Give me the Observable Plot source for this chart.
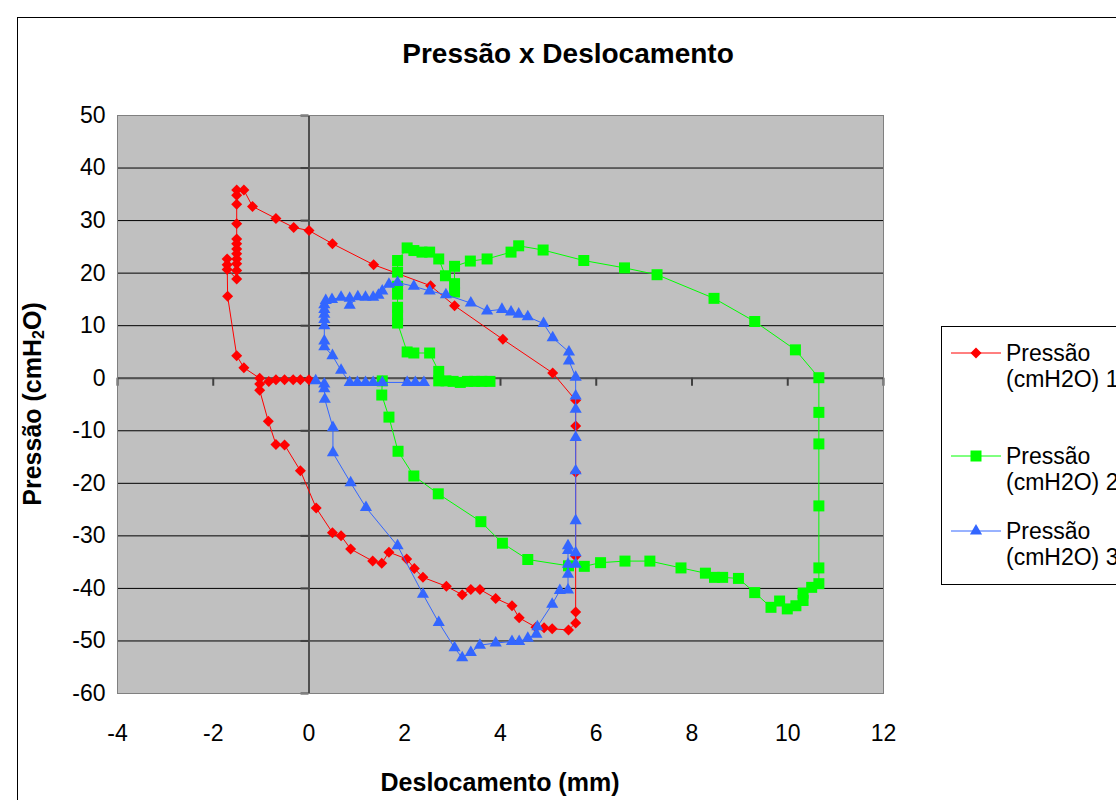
<!DOCTYPE html>
<html>
<head>
<meta charset="utf-8">
<script src="https://cdn.jsdelivr.net/npm/d3@7"></script>
<script src="https://cdn.jsdelivr.net/npm/@observablehq/plot@0.6"></script>
<style>
  body { margin: 0; background: #fff; font-family: "Liberation Sans", Arial, sans-serif; }
  #wrap { position: relative; width: 1116px; height: 800px; overflow: hidden; background: #fff; }
  #chart { position: absolute; left: 0; top: 0; }
  #border { position: absolute; left: 17px; top: 17px; width: 3000px; height: 3000px; border: 1px solid #000; box-sizing: border-box; pointer-events: none; }
  #title { position: absolute; left: 0; width: 1136px; top: 38px; text-align: center; font-weight: bold; font-size: 28px; line-height: 32px; color: #000; }
  #xtitle { position: absolute; left: 0; width: 1000px; top: 767px; text-align: center; font-weight: bold; font-size: 25px; line-height: 30px; color: #000; }
  #ytitle { position: absolute; left: 32px; top: 404px; transform: translate(-50%, -50%) rotate(-90deg); white-space: nowrap; font-weight: bold; font-size: 25px; line-height: 30px; color: #000; }
  #ytitle sub { font-size: 16px; vertical-align: -3px; line-height: 0; }
  #legend { position: absolute; left: 941px; top: 326px; width: 400px; height: 259px; border: 1px solid #000; box-sizing: border-box; background: #fff; }
  .entry { position: absolute; left: 0; font-size: 23px; line-height: 26px; color: #000; }
  .entry svg { position: absolute; left: 9px; top: 0; }
  .entry .txt { position: absolute; left: 64px; top: 2px; white-space: nowrap; }
</style>
</head>
<body>
<div id="wrap">
  <div id="chart"></div>
  <div id="border"></div>
  <div id="title"></div>
  <div id="xtitle"></div>
  <div id="ytitle"></div>
  <div id="legend"></div>
</div>
<script>
// ---- Data ----
const seriesNames = ["Pressão (cmH2O) 1", "Pressão (cmH2O) 2", "Pressão (cmH2O) 3"];
const seriesColors = ["#FF0000", "#00FF00", "#3366FF"];
const xTicks = [-4, -2, 0, 2, 4, 6, 8, 10, 12];
const yTicks = [-60, -50, -40, -30, -20, -10, 0, 10, 20, 30, 40, 50];
const chartTitle = "Pressão x Deslocamento";
const xLabel = "Deslocamento (mm)";

const redX = [0.00,-0.18,-0.33,-0.51,-0.69,-0.84,-1.03,-1.03,-0.85,-0.69,-0.51,-0.18,0.15,0.49,0.67,0.87,1.33,1.52,1.67,2.04,2.20,2.38,2.87,3.20,3.38,3.57,3.90,4.24,4.39,4.74,4.91,5.08,5.42,5.57,5.57,5.57,5.57,5.57,5.57,5.09,4.05,3.04,2.54,1.35,0.49,0.00,-0.32,-0.69,-1.18,-1.36,-1.51,-1.51,-1.51,-1.51,-1.51,-1.51,-1.51,-1.51,-1.51,-1.51,-1.51,-1.51,-1.71,-1.71,-1.71,-1.70,-1.51,-1.36,-1.03];
const redY = [-0.3,-0.3,-0.3,-0.3,-0.3,-0.6,-1.1,-2.3,-8.2,-12.6,-12.7,-17.6,-24.7,-29.4,-30.0,-32.5,-34.8,-35.2,-33.1,-34.4,-36.2,-37.9,-39.6,-41.2,-40.2,-40.2,-41.9,-43.3,-45.6,-47.4,-47.5,-47.7,-47.9,-46.6,-44.5,-33.9,-17.9,-9.1,-4.2,1.0,7.4,13.8,17.6,21.6,25.6,28.1,28.7,30.4,32.7,35.8,35.8,34.8,33.1,29.4,26.5,25.6,24.6,23.7,22.7,21.8,20.5,18.9,20.7,21.6,22.7,15.6,4.3,2.0,0.0];

const greenX = [1.53,1.52,1.67,1.86,2.19,2.70,3.59,4.04,4.57,5.42,5.75,6.09,6.60,7.12,7.77,8.28,8.47,8.64,8.97,9.31,9.65,9.83,9.99,10.17,10.32,10.32,10.50,10.65,10.65,10.65,10.65,10.65,10.65,10.16,9.31,8.46,7.27,6.59,5.74,4.89,4.38,4.22,3.72,3.37,3.04,3.04,3.04,2.85,2.71,2.52,2.36,2.19,2.05,1.85,1.85,1.85,1.85,1.85,1.85,1.85,2.05,2.19,2.52,2.71,2.71,2.86,3.01,3.16,3.31,3.46,3.61,3.78];
const greenY = [-0.5,-3.2,-7.4,-13.9,-18.6,-22.0,-27.3,-31.4,-34.5,-35.7,-35.8,-35.1,-34.8,-34.8,-36.1,-37.1,-37.9,-37.9,-38.1,-40.8,-43.6,-42.4,-43.9,-43.3,-42.3,-40.9,-39.8,-39.1,-36.1,-24.3,-12.5,-6.5,0.1,5.4,10.8,15.2,19.7,21.0,22.4,24.4,25.2,24.0,22.7,22.3,21.3,16.4,18.0,19.5,22.7,24.0,24.0,24.3,24.8,22.4,20.2,17.5,16.0,13.5,12.0,10.5,5.0,4.8,4.8,1.3,-0.5,-0.5,-0.6,-0.8,-0.6,-0.6,-0.6,-0.6];

const blueX = [0.14,0.32,0.32,0.33,0.50,0.50,0.87,1.19,1.85,2.38,2.71,3.04,3.20,3.38,3.57,3.90,4.24,4.39,4.57,4.75,4.77,5.08,5.24,5.41,5.41,5.41,5.41,5.41,5.57,5.57,5.57,5.57,5.57,5.57,5.57,5.57,5.43,5.43,5.09,4.90,4.57,4.38,4.22,4.03,3.72,3.38,2.86,2.52,2.19,1.85,1.67,1.53,1.45,1.34,1.18,1.02,0.85,0.85,0.67,0.48,0.35,0.32,0.32,0.32,0.32,0.32,0.32,0.32,0.49,0.67,0.85,1.01,1.18,1.34,1.53,2.05,2.22,2.40];
const blueY = [-0.5,-1.1,-2.0,-4.0,-9.4,-14.2,-19.9,-24.6,-31.9,-41.1,-46.5,-51.3,-53.2,-52.2,-50.8,-50.4,-50.1,-50.1,-49.5,-48.7,-47.3,-43.0,-40.4,-40.3,-37.3,-35.4,-32.8,-31.9,-33.2,-35.4,-27.1,-17.6,-11.3,-5.9,-3.4,0.2,3.3,5.0,7.7,10.4,11.7,12.2,12.6,13.1,12.8,14.3,15.9,16.6,17.5,18.2,17.9,16.6,15.8,15.4,15.4,15.5,13.9,15.2,15.4,15.0,14.8,14.0,13.1,12.2,11.2,10.0,7.1,6.0,4.3,1.5,-0.8,-0.8,-0.8,-0.8,-0.8,-0.8,-0.8,-0.8];

// ---- Build tables ----
const toRows = (xs, ys) => xs.map((x, i) => ({x, y: ys[i]}));
const red = toRows(redX, redY);
const green = toRows(greenX, greenY);
const blue = toRows(blueX, blueY);

const W = 1116, H = 800;
const mL = 117, mR = 233, mT = 115, mB = 107;
const xDom = [xTicks[0], xTicks[xTicks.length - 1]];
const yDom = [yTicks[0], yTicks[yTicks.length - 1]];
const pxPerX = (W - mL - mR) / (xDom[1] - xDom[0]);
const pxPerY = (H - mT - mB) / (yDom[1] - yDom[0]);
const tickPx = 8;
const tickXLen = tickPx / pxPerY; // in y units
const tickYLen = tickPx / pxPerX; // in x units

const sqR = 11 / Math.sqrt(Math.PI);
const diaR = Math.sqrt((11 / 1.2525) ** 2 / Math.PI);
const triR = Math.sqrt(64 / Math.PI);

const chart = Plot.plot({
  width: W, height: H,
  marginLeft: mL, marginRight: mR, marginTop: mT, marginBottom: mB,
  x: {domain: xDom, label: null},
  y: {domain: yDom, label: null},
  style: {fontFamily: "'Liberation Sans', Arial, sans-serif", background: "transparent", color: "#000"},
  marks: [
    Plot.frame({fill: "#C0C0C0", stroke: null}),
    Plot.ruleY(yTicks, {stroke: "#000", strokeWidth: 1}),
    Plot.ruleX([0], {stroke: "#505050", strokeWidth: 2}),
    Plot.ruleY([0], {stroke: "#505050", strokeWidth: 2}),
    Plot.ruleX(xTicks, {x: d => d, y1: 0, y2: -tickXLen, stroke: "#404040", strokeWidth: 2}),
    Plot.ruleY(yTicks, {y: d => d, x1: 0, x2: -tickYLen, stroke: "#404040", strokeWidth: 2}),
    Plot.frame({stroke: "#808080", strokeWidth: 1}),
    Plot.axisX(xTicks, {tickSize: 0, tickPadding: 31, fontSize: 23, tickFormat: d => String(d), label: null}),
    Plot.axisY(yTicks, {tickSize: 0, tickPadding: 12, fontSize: 23, tickFormat: d => String(d), label: null}),
    Plot.line(red, {x: "x", y: "y", stroke: seriesColors[0], strokeWidth: 1}),
    Plot.dot(red, {x: "x", y: "y", symbol: "diamond2", fill: seriesColors[0], stroke: null, r: diaR}),
    Plot.line(green, {x: "x", y: "y", stroke: seriesColors[1], strokeWidth: 1}),
    Plot.dot(green, {x: "x", y: "y", symbol: "square", fill: seriesColors[1], stroke: null, r: sqR}),
    Plot.line(blue, {x: "x", y: "y", stroke: seriesColors[2], strokeWidth: 1}),
    Plot.dot(blue, {x: "x", y: "y", symbol: "triangle", fill: seriesColors[2], stroke: null, r: triR})
  ]
});
document.getElementById("chart").appendChild(chart);

document.getElementById("title").textContent = chartTitle;
document.getElementById("xtitle").textContent = xLabel;
document.getElementById("ytitle").innerHTML = "Pressão (cmH<sub>2</sub>O)";

// ---- Legend ----
const legend = document.getElementById("legend");
const entryTops = [11, 114, 189];
const symTypes = [d3.symbolDiamond2, d3.symbolSquare, d3.symbolTriangle];
const radii = [diaR, sqR, triR];
seriesNames.forEach((name, i) => {
  const e = document.createElement("div");
  e.className = "entry";
  e.style.top = entryTops[i] + "px";
  const svg = d3.create("svg").attr("width", 50).attr("height", 30);
  svg.append("line").attr("x1", 0).attr("x2", 50).attr("y1", 15).attr("y2", 15)
    .attr("stroke", seriesColors[i]).attr("stroke-width", 1);
  svg.append("path").attr("transform", "translate(25,15)")
    .attr("d", d3.symbol(symTypes[i], Math.PI * radii[i] * radii[i])())
    .attr("fill", seriesColors[i]);
  e.appendChild(svg.node());
  const parts = name.split(" ");
  const t = document.createElement("div");
  t.className = "txt";
  t.innerHTML = parts[0] + "<br>" + parts.slice(1).join(" ");
  e.appendChild(t);
  legend.appendChild(e);
});
</script>
</body>
</html>
